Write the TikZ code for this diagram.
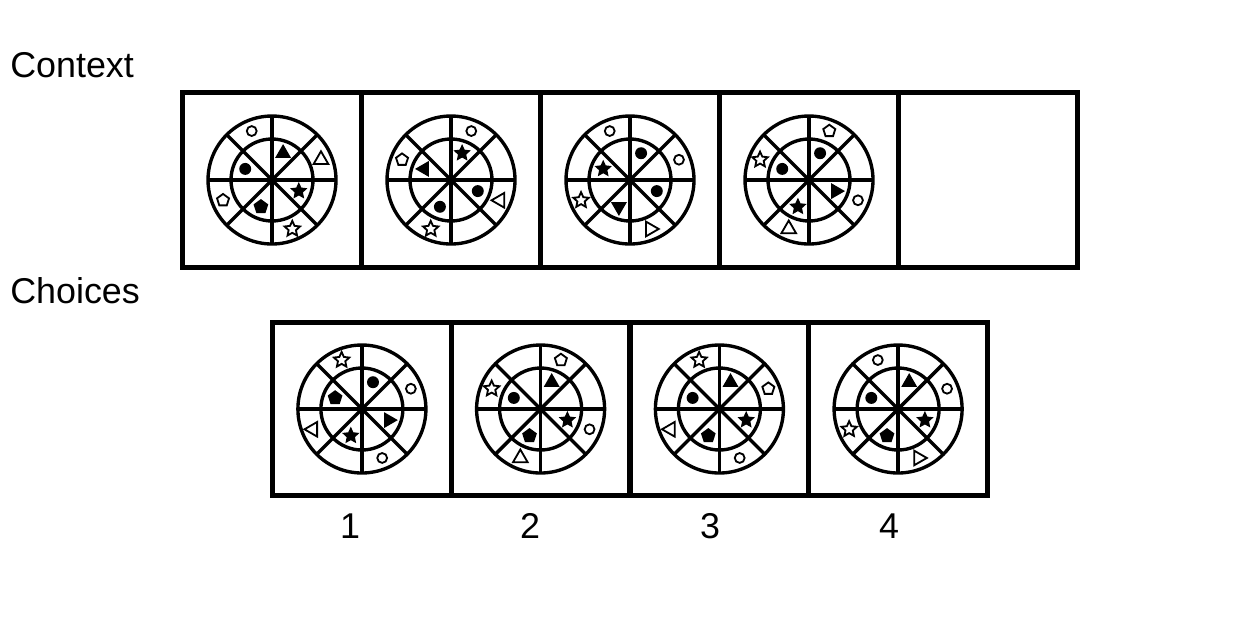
\documentclass[tikz,border=0pt]{standalone}
\usepackage{fontspec}
\setmainfont{Liberation Sans}
\usetikzlibrary{shapes.geometric}

% one wheel: two rings, four spokes, then the symbols (angle/radius/style)
\newcommand{\wheel}[2]{%
  \draw[spoke] (#1.center) circle (64) (#1.center) circle (41);
  \foreach \a in {0,45,90,135}
    \draw[spoke] ([shift={(\a:64)}]#1.center) -- ([shift={(\a+180:64)}]#1.center);
  \foreach \a/\r/\s in {#2}
    \node[\s] at ([shift={(\a:\r)}]#1.center) {};
}

\begin{document}
\begin{tikzpicture}[x=0.025cm,y=0.025cm,
  panel/.style={draw,line width=3.6pt,minimum width=4.475cm,
    minimum height=4.375cm,inner sep=0},
  choice/.style={panel,minimum width=4.47cm,minimum height=4.325cm},
  spoke/.style={line width=2.4pt},
  sym/.style={inner sep=0,outer sep=0},
  fcirc/.style={sym,circle,fill,minimum size=8.5pt},
  ocirc/.style={sym,circle,draw,line width=1.3pt,minimum size=7pt},
  fpent/.style={sym,regular polygon,regular polygon sides=5,fill,minimum size=11pt},
  opent/.style={sym,regular polygon,regular polygon sides=5,draw,line width=1.3pt,
    minimum size=9pt},
  fstar/.style={sym,star,star points=5,star point ratio=2.1,fill,minimum size=13pt},
  ostar/.style={sym,star,star points=5,star point ratio=2.1,draw,line width=1.3pt,
    minimum size=11.5pt},
  ftri/.style={sym,regular polygon,regular polygon sides=3,fill,minimum size=13pt},
  ftri-l/.style={ftri,shape border rotate=90},
  ftri-d/.style={ftri,shape border rotate=180},
  ftri-r/.style={ftri,shape border rotate=-90},
  otri/.style={sym,regular polygon,regular polygon sides=3,draw,line width=1.3pt,
    minimum size=12pt},
  otri-l/.style={otri,shape border rotate=90},
  otri-r/.style={otri,shape border rotate=-90},
  lbl/.style={font=\fontsize{25.5}{30}\selectfont,inner sep=0}
]
\useasboundingbox (0,0) rectangle (1260,-640);

\node[lbl,anchor=base west] (context) at (10,-77) {Context};
\node[lbl,anchor=base west] (choices) at (10,-303) {Choices};

% context row
\node[panel] (c1) at (272,-180) {};
\node[panel] (c2) at (451,-180) {};
\node[panel] (c3) at (630,-180) {};
\node[panel] (c4) at (809,-180) {};
\node[panel] (c5) at (988,-180) {};

% choice row
\node[choice] (a1) at (361.9,-409) {};
\node[choice] (a2) at (540.6,-409) {};
\node[choice] (a3) at (719.4,-409) {};
\node[choice] (a4) at (898.1,-409) {};

\node[lbl,anchor=base] (n1) at (350,-538) {1};
\node[lbl,anchor=base] (n2) at (530,-538) {2};
\node[lbl,anchor=base] (n3) at (710,-538) {3};
\node[lbl,anchor=base] (n4) at (889,-538) {4};

\wheel{c1}{112.5/53/ocirc,22.5/53/otri,202.5/53/opent,292.5/53/ostar,
  67.5/29/ftri,157.5/29/fcirc,337.5/29/fstar,247.5/29/fpent}
\wheel{c2}{67.5/53/ocirc,157.5/53/opent,337.5/53/otri-l,247.5/53/ostar,
  67.5/29/fstar,157.5/29/ftri-l,337.5/29/fcirc,247.5/29/fcirc}
\wheel{c3}{112.5/53/ocirc,22.5/53/ocirc,202.5/53/ostar,292.5/53/otri-r,
  67.5/29/fcirc,157.5/29/fstar,337.5/29/fcirc,247.5/29/ftri-d}
\wheel{c4}{67.5/53/opent,157.5/53/ostar,337.5/53/ocirc,247.5/53/otri,
  67.5/29/fcirc,157.5/29/fcirc,337.5/29/ftri-r,247.5/29/fstar}

\wheel{a1}{112.5/53/ostar,22.5/53/ocirc,202.5/53/otri-l,292.5/53/ocirc,
  67.5/29/fcirc,157.5/29/fpent,337.5/29/ftri-r,247.5/29/fstar}
\wheel{a2}{67.5/53/opent,157.5/53/ostar,337.5/53/ocirc,247.5/53/otri,
  67.5/29/ftri,157.5/29/fcirc,337.5/29/fstar,247.5/29/fpent}
\wheel{a3}{112.5/53/ostar,22.5/53/opent,202.5/53/otri-l,292.5/53/ocirc,
  67.5/29/ftri,157.5/29/fcirc,337.5/29/fstar,247.5/29/fpent}
\wheel{a4}{112.5/53/ocirc,22.5/53/ocirc,202.5/53/ostar,292.5/53/otri-r,
  67.5/29/ftri,157.5/29/fcirc,337.5/29/fstar,247.5/29/fpent}
\end{tikzpicture}
\end{document}
